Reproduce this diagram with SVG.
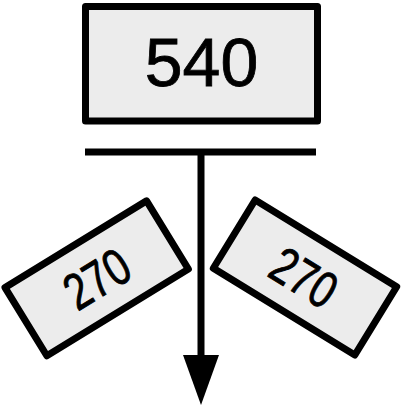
<svg xmlns="http://www.w3.org/2000/svg" width="404" height="408" viewBox="0 0 404 408">
<style>
.box{fill:#ececec;stroke:#000;stroke-width:7;stroke-linejoin:round}
.t{font-family:"Liberation Sans",Arial,sans-serif;fill:#000;text-anchor:middle}
.s{stroke:#000;stroke-width:0.8}
.ln{stroke:#000;stroke-width:7;fill:none}
</style>
<rect width="404" height="408" fill="#fff"/>
<g id="connectors">
<line class="ln" x1="85" y1="152" x2="316" y2="152"/>
<line class="ln" x1="201" y1="152" x2="201" y2="360"/>
<polygon points="183,355 219,355 201,405" fill="#000"/>
</g>
<g id="node-540">
<rect class="box" x="85.5" y="6.5" width="232" height="114.5"/>
<text class="t s" x="201.5" y="86" font-size="68">540</text>
</g>
<g id="node-270-left" transform="translate(96.7,278.3) rotate(-31.5)">
<rect class="box" x="-83" y="-40" width="166" height="80"/>
<text class="t s" transform="scale(0.88,1.12)" x="0" y="16.5" font-size="46">270</text>
</g>
<g id="node-270-right" transform="translate(305,277.5) rotate(31.5)">
<rect class="box" x="-83" y="-40" width="166" height="80"/>
<text class="t s" transform="scale(0.88,1.12)" x="-1" y="16.5" font-size="46">270</text>
</g>
</svg>
